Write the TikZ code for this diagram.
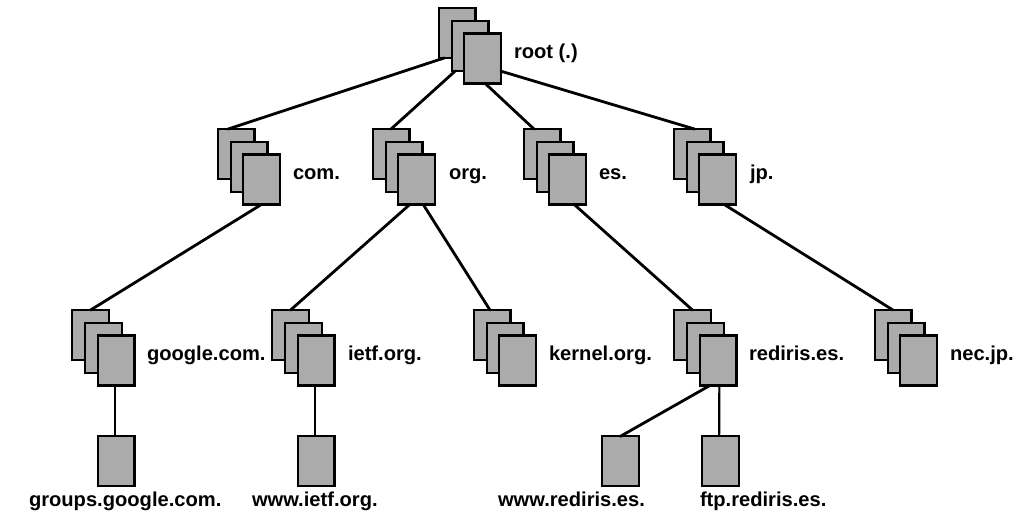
\documentclass[tikz,border=0pt]{standalone}
\usepackage{fontspec}
\setmainfont{Liberation Sans}
\usetikzlibrary{calc}
\tikzset{
  zone/.style={draw=black, fill=zonegray, line width=1.65pt, inner sep=0pt, outer sep=0pt, minimum width=27.6pt, minimum height=37.4pt},
  lab/.style={anchor=base west, inner sep=0pt, outer sep=0pt, font=\fontsize{15.1}{17}\selectfont\bfseries},
  link/.style={draw=black, line width=2.1pt, line cap=round},
  drop/.style={draw=black, line width=1.6pt}
}
\definecolor{zonegray}{HTML}{ABABAB}
\begin{document}
\begin{tikzpicture}[x=0.75pt, y=-0.75pt]
    \useasboundingbox (0,0) rectangle (1021,514);

    % the back page of each stack
    \coordinate (root) at (457,33);
    \coordinate (com) at (236,154);
    \coordinate (org) at (391,154);
    \coordinate (es) at (542,154);
    \coordinate (jp) at (692,154);
    \coordinate (google) at (90.5,335);
    \coordinate (ietf) at (290.5,335);
    \coordinate (kernel) at (492,335);
    \coordinate (rediris) at (692.5,335);
    \coordinate (nec) at (893,335);

    \node[zone] (root1) at (root) {};
    \node[zone] (root2) at ($ (root) + (13,13) $) {};
    \node[zone] (root3) at ($ (root) + (25.5,25.5) $) {};
    \node[zone] (com1) at (com) {};
    \node[zone] (com2) at ($ (com) + (13,13) $) {};
    \node[zone] (com3) at ($ (com) + (25.5,25.5) $) {};
    \node[zone] (org1) at (org) {};
    \node[zone] (org2) at ($ (org) + (13,13) $) {};
    \node[zone] (org3) at ($ (org) + (25.5,25.5) $) {};
    \node[zone] (es1) at (es) {};
    \node[zone] (es2) at ($ (es) + (13,13) $) {};
    \node[zone] (es3) at ($ (es) + (25.5,25.5) $) {};
    \node[zone] (jp1) at (jp) {};
    \node[zone] (jp2) at ($ (jp) + (13,13) $) {};
    \node[zone] (jp3) at ($ (jp) + (25.5,25.5) $) {};
    \node[zone] (google1) at (google) {};
    \node[zone] (google2) at ($ (google) + (13,13) $) {};
    \node[zone] (google3) at ($ (google) + (25.5,25.5) $) {};
    \node[zone] (ietf1) at (ietf) {};
    \node[zone] (ietf2) at ($ (ietf) + (13,13) $) {};
    \node[zone] (ietf3) at ($ (ietf) + (25.5,25.5) $) {};
    \node[zone] (kernel1) at (kernel) {};
    \node[zone] (kernel2) at ($ (kernel) + (13,13) $) {};
    \node[zone] (kernel3) at ($ (kernel) + (25.5,25.5) $) {};
    \node[zone] (rediris1) at (rediris) {};
    \node[zone] (rediris2) at ($ (rediris) + (13,13) $) {};
    \node[zone] (rediris3) at ($ (rediris) + (25.5,25.5) $) {};
    \node[zone] (nec1) at (nec) {};
    \node[zone] (nec2) at ($ (nec) + (13,13) $) {};
    \node[zone] (nec3) at ($ (nec) + (25.5,25.5) $) {};

    \node[zone] (groups) at (116,461.3) {};
    \node[zone] (wwwietf) at (316,461.3) {};
    \node[zone] (wwwrediris) at (620.3,461.3) {};
    \node[zone] (ftp) at (720.5,461.3) {};

    \node[lab] (lroot) at (514,58) {root (.)};
    \node[lab] (lcom) at (293,179) {com.};
    \node[lab] (lorg) at (449,179) {org.};
    \node[lab] (les) at (599,179) {es.};
    \node[lab] (ljp) at (750,179) {jp.};
    \node[lab] (lgoogle) at (147,360.5) {google.com.};
    \node[lab] (lietf) at (348,360.5) {ietf.org.};
    \node[lab] (lkernel) at (549,360.5) {kernel.org.};
    \node[lab] (lrediris) at (749,360.5) {rediris.es.};
    \node[lab] (lnec) at (950,360.5) {nec.jp.};
    \node[lab] (lgroups) at (29,506) {groups.google.com.};
    \node[lab] (lwwwietf) at (252,506) {www.ietf.org.};
    \node[lab] (lwwwrediris) at (498,506) {www.rediris.es.};
    \node[lab] (lftp) at (700,506) {ftp.rediris.es.};

    \draw[link] ([xshift=-9.5pt]root1.south) -- ([xshift=-6pt]com1.north);
    \draw[link] ([xshift=-11pt]root2.south) -- (org1.north);
    \draw[link] ([xshift=2pt]root3.south) -- ([xshift=-6pt]es1.north);
    \draw[link] ([yshift=-9.5pt]root3.east) -- ([xshift=2pt]jp1.north);

    \draw[link] (com3.south) -- (google1.north);
    \draw[link] ([xshift=-5pt]org3.south) -- (ietf1.north);
    \draw[link] ([xshift=5pt]org3.south) -- ([xshift=-1.5pt]kernel1.north);
    \draw[link] ([xshift=5pt]es3.south) -- (rediris1.north);
    \draw[link] ([xshift=5pt]jp3.south) -- (nec1.north);

    \draw[drop] ([xshift=-0.5pt]google3.south) -- ([xshift=-0.5pt]groups.north);
    \draw[drop] ([xshift=-0.5pt]ietf3.south) -- ([xshift=-0.5pt]wwwietf.north);
    \draw[link] ([xshift=-6pt]rediris3.south) -- (wwwrediris.north);
    \draw[drop] ([xshift=1pt]rediris3.south) -- ([xshift=-1pt]ftp.north);
\end{tikzpicture}
\end{document}
